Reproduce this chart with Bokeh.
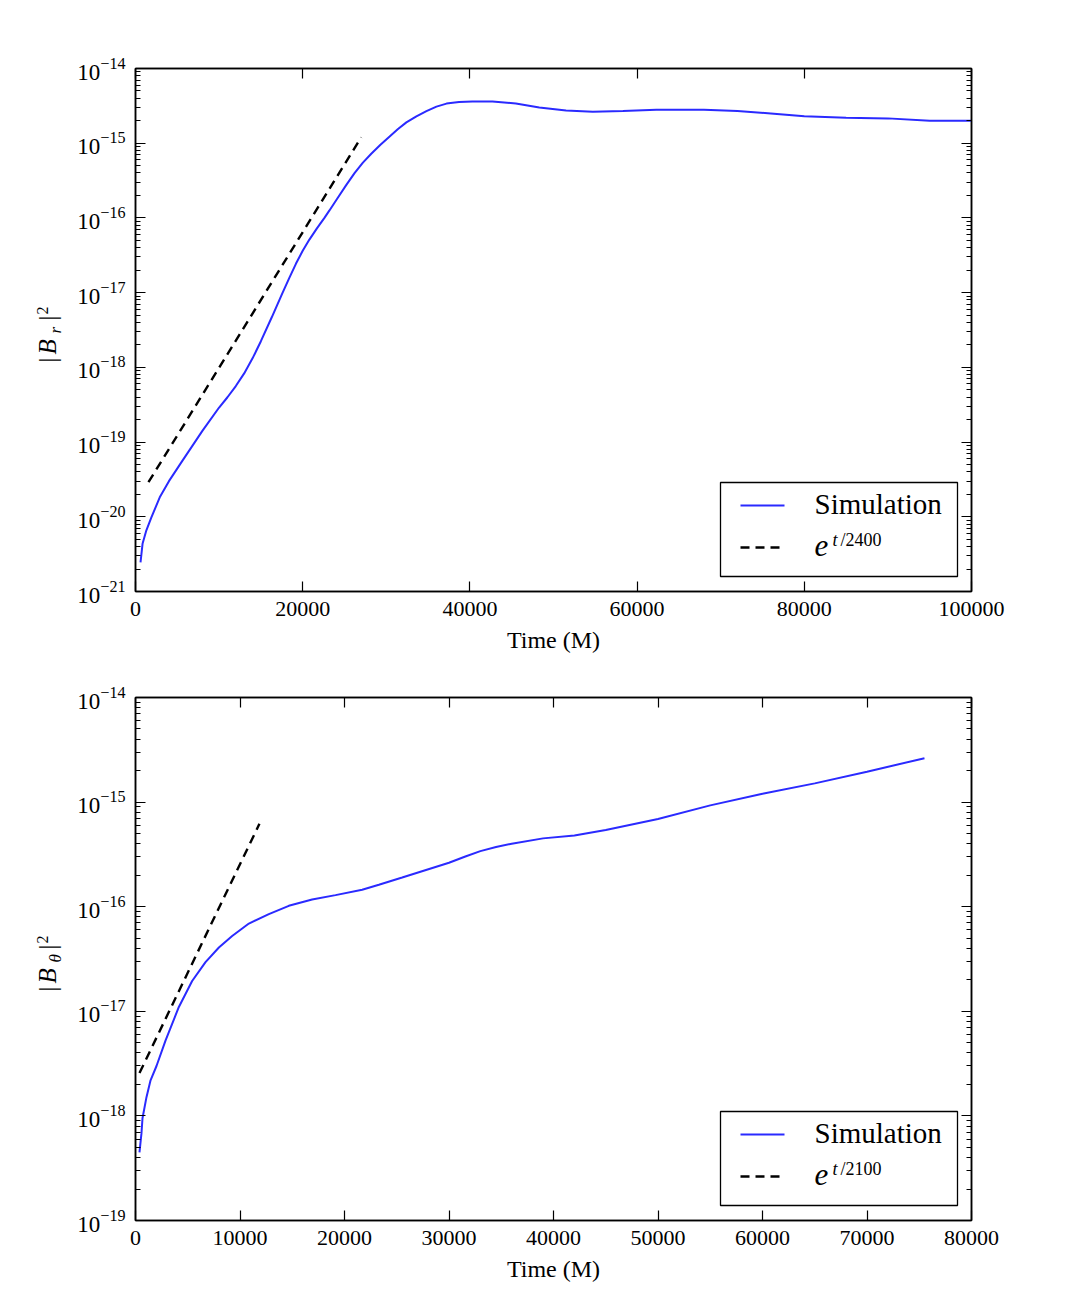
import math
from bokeh.plotting import figure
from bokeh.models import (Range1d, FixedTicker, LinearAxis, LogAxis,
                          BasicTickFormatter, LogTickFormatter, Label)
from bokeh.layouts import column, row
from bokeh.embed import file_html
from bokeh.resources import INLINE

# ---------------- data ----------------
# Top panel: |B_r|^2 versus time
br_time = [600, 850, 1300, 1900, 2900, 4000, 5600, 8000, 10000, 11000, 12000,
           13000, 14000, 15000, 16300, 17600, 18400, 19200, 20000, 20800,
           21700, 22600, 23200, 24200, 25200, 26200, 27200, 28200, 29300,
           30400, 31400, 32400, 33600, 34800, 36000, 37200, 38700, 40300,
           42700, 45500, 48300, 51500, 54700, 58300, 62300, 64000, 68000,
           72000, 76000, 80000, 85000, 90000, 95000, 100000]
br_sim = [2.45e-21, 4.4e-21, 6.6e-21, 9.8e-21, 1.82e-20, 3.0e-20, 5.6e-20,
          1.41e-19, 2.9e-19, 3.98e-19, 5.62e-19, 8.3e-19, 1.32e-18, 2.24e-18,
          4.68e-18, 1.0e-17, 1.58e-17, 2.45e-17, 3.63e-17, 5.13e-17,
          7.24e-17, 1.0e-16, 1.26e-16, 1.86e-16, 2.75e-16, 3.98e-16, 5.5e-16,
          7.24e-16, 9.55e-16, 1.23e-15, 1.55e-15, 1.9e-15, 2.29e-15,
          2.69e-15, 3.09e-15, 3.39e-15, 3.55e-15, 3.63e-15, 3.63e-15,
          3.4e-15, 3.0e-15, 2.75e-15, 2.63e-15, 2.7e-15, 2.8e-15, 2.8e-15,
          2.8e-15, 2.7e-15, 2.5e-15, 2.3e-15, 2.2e-15, 2.15e-15, 2.0e-15,
          2.0e-15]
br_fit_time = [1550, 27000]
br_fit = [2.9e-20, 1.2e-15]

# Bottom panel: |B_theta|^2 versus time
bt_time = [380, 570, 670, 1050, 1440, 2010, 2870, 4150, 5420, 6700, 7980,
           9250, 10850, 12760, 14670, 16900, 19140, 21690, 23290, 25520,
           28710, 30000, 31500, 33000, 34500, 36000, 39000, 42000, 45000,
           50000, 55000, 60000, 65000, 70000, 75500]
bt_sim = [4.47e-19, 6.8e-19, 9.5e-19, 1.51e-18, 2.19e-18, 3.0e-18, 5.25e-18,
          1.1e-17, 1.95e-17, 2.95e-17, 4.07e-17, 5.25e-17, 6.9e-17, 8.5e-17,
          1.02e-16, 1.17e-16, 1.29e-16, 1.45e-16, 1.62e-16, 1.9e-16, 2.4e-16,
          2.63e-16, 3.0e-16, 3.4e-16, 3.72e-16, 4.0e-16, 4.5e-16, 4.8e-16,
          5.4e-16, 6.9e-16, 9.3e-16, 1.2e-15, 1.51e-15, 1.95e-15, 2.63e-15]
bt_fit_time = [380, 11860]
bt_fit = [2.57e-18, 6.2e-16]

top_xticks = [0, 20000, 40000, 60000, 80000, 100000]
bot_xticks = [0, 10000, 20000, 30000, 40000, 50000, 60000, 70000, 80000]
top_exponents = [-21, -20, -19, -18, -17, -16, -15, -14]
bot_exponents = [-19, -18, -17, -16, -15, -14]

legend_sim = "Simulation"
top_fit_scale = "/2400"
bot_fit_scale = "/2100"
xlabel = "Time (M)"

# ---------------- styling / layout constants ----------------
FONT = "Liberation Serif"
BLUE = "#2a2aff"
LW = 66           # width of the strip that holds the y-axis title
FL = 135 - LW     # left border of the plotting figure
FW, FH = 836, 523
BOTTOM = 70
DASH = "9 6"


def style_axis(ax, labels=True, minor=True):
    ax.axis_line_color = "black"
    ax.axis_line_width = 1.5
    ax.major_tick_line_color = "black"
    ax.major_tick_line_width = 1.2
    ax.minor_tick_line_color = "black"
    ax.minor_tick_line_width = 1.0
    ax.major_tick_in = 10
    ax.major_tick_out = 0
    ax.minor_tick_in = 5 if minor else 0
    ax.minor_tick_out = 0
    ax.major_label_text_font = FONT
    ax.major_label_text_font_size = "22px" if labels else "10px"
    ax.major_label_text_color = "black" if labels else None
    ax.major_label_standoff = 10 if labels else 0
    ax.axis_label_text_font = FONT
    ax.axis_label_text_font_style = "normal"
    ax.axis_label_text_font_size = "24px"
    ax.axis_label_text_color = "black"


def lab(p, x, y, text, size, style="normal", angle=0.0):
    p.add_layout(Label(x=x, y=y, text=text, angle=angle, text_font=FONT,
                       text_font_size=size, text_font_style=style,
                       text_baseline="alphabetic", text_align="left",
                       text_color="black"))


def ytitle(border_top, sub_text):
    """Narrow strip to the left of a panel holding |B_x|^2 (bottom -> top)."""
    H = border_top + FH + BOTTOM
    f = figure(width=LW, height=H, frame_width=LW, frame_height=H,
               min_border=0, x_range=Range1d(0, LW), y_range=Range1d(0, H),
               x_axis_location=None, y_axis_location=None,
               output_backend="svg", toolbar_location=None, tools="")
    f.xgrid.visible = False
    f.ygrid.visible = False
    f.outline_line_color = None
    f.background_fill_color = "white"
    f.border_fill_color = "white"
    parts = [  # text, baseline x (px), start (px below panel frame top), size, style
        ("|", 47, 294, "25px", "normal"),
        ("B", 47, 286, "25px", "italic"),
        (sub_text, 55, 265, "17px", "italic"),
        ("|", 47, 252, "25px", "normal"),
        ("2", 42, 246, "16px", "normal"),
    ]
    for txt, bx, dy, size, style in parts:
        lab(f, bx, H - dy, txt, size, style, angle=math.pi / 2)
    return f


def panel(times, sim, fit_t, fit_v, xticks, exps, border_top, fit_scale):
    xmax = xticks[-1]
    e_top, e_bot = exps[-1], exps[0]

    p = figure(width=FL + FW + 40, height=border_top + FH + BOTTOM,
               frame_width=FW, frame_height=FH,
               min_border_left=FL, min_border_right=40,
               min_border_top=border_top, min_border_bottom=BOTTOM,
               x_range=Range1d(0, xmax),
               y_range=Range1d(10.0 ** e_bot, 10.0 ** e_top),
               y_axis_type="log", output_backend="svg",
               toolbar_location=None, tools="")
    p.xgrid.visible = False
    p.ygrid.visible = False
    p.outline_line_color = "black"
    p.outline_line_width = 1.5
    p.background_fill_color = "white"
    p.border_fill_color = "white"

    xt = FixedTicker(ticks=xticks, minor_ticks=[])
    yt = FixedTicker(ticks=[10.0 ** e for e in exps],
                     minor_ticks=[k * 10.0 ** e for e in exps[:-1]
                                  for k in range(2, 10)])
    p.xaxis.ticker = xt
    p.xaxis.formatter = BasicTickFormatter(use_scientific=False)
    p.yaxis.ticker = yt
    p.yaxis.formatter = LogTickFormatter()
    p.xaxis.axis_label = xlabel
    for ax in p.xaxis:
        style_axis(ax, True, False)
        ax.axis_label_standoff = 8
    for ax in p.yaxis:
        style_axis(ax, True, True)
        ax.major_label_text_font_size = "23px"

    top_ax = LinearAxis(ticker=xt, formatter=BasicTickFormatter(use_scientific=False))
    style_axis(top_ax, False, False)
    p.add_layout(top_ax, "above")
    right_ax = LogAxis(ticker=yt, formatter=BasicTickFormatter())
    style_axis(right_ax, False, True)
    p.add_layout(right_ax, "right")

    # data
    p.line(times, sim, line_color=BLUE, line_width=2)
    p.line(fit_t, fit_v, line_color="black", line_width=2.4, line_dash=DASH)

    # helpers: frame-relative pixel offsets -> data coordinates
    def X(dx):
        return dx / FW * xmax

    def Y(dy):
        return 10.0 ** (e_top - dy / FH * (e_top - e_bot))

    # legend (drawn by hand to typeset e^{t/...})
    bl, br = FW - 251, FW - 14
    bt, bb = FH - 109, FH - 15
    p.quad(left=[X(bl)], right=[X(br)], top=[Y(bt)], bottom=[Y(bb)],
           fill_color="white", line_color="black", line_width=1.3)
    p.line([X(bl + 20), X(bl + 64)], [Y(FH - 86)] * 2, line_color=BLUE,
           line_width=2)
    p.line([X(bl + 20), X(bl + 64)], [Y(FH - 44)] * 2, line_color="black",
           line_width=2.4, line_dash=DASH)
    lab(p, X(bl + 94), Y(FH - 88), legend_sim, "29px")
    lab(p, X(bl + 94), Y(FH - 46), "e", "31px", "italic")
    lab(p, X(bl + 112), Y(FH - 52), "t", "18px", "italic")
    lab(p, X(bl + 120), Y(FH - 52), fit_scale, "18px")
    return p


p1 = panel(br_time, br_sim, br_fit_time, br_fit, top_xticks, top_exponents,
           68, top_fit_scale)
p2 = panel(bt_time, bt_sim, bt_fit_time, bt_fit, bot_xticks, bot_exponents,
           36, bot_fit_scale)

layout = column(row(ytitle(68, "r"), p1), row(ytitle(36, "\u03b8"), p2))
open("out.html", "w").write(file_html(layout, INLINE))
